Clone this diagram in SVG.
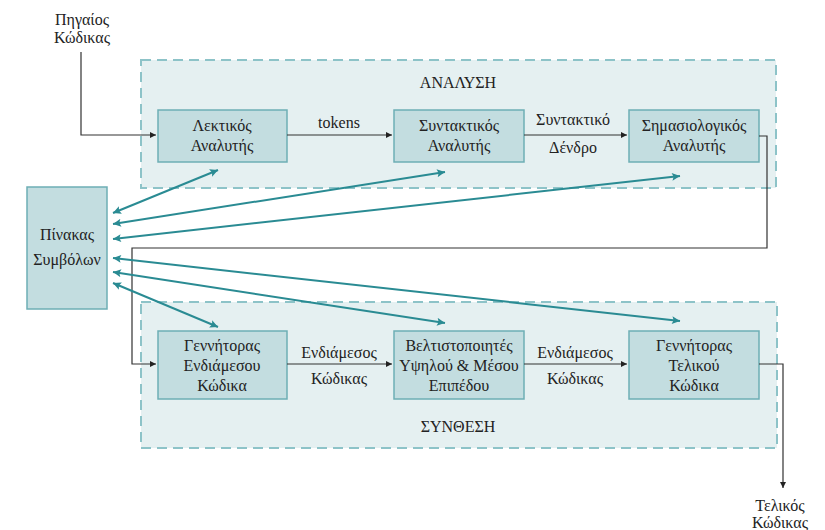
<svg xmlns="http://www.w3.org/2000/svg" width="825" height="530" viewBox="0 0 825 530">
<defs>
<marker id="ab" viewBox="0 0 10 10" refX="10" refY="5" markerWidth="8" markerHeight="6" markerUnits="userSpaceOnUse" orient="auto"><path d="M0,0 L10,5 L0,10 z" fill="#222"/></marker>
<marker id="at" viewBox="0 0 10 10" refX="10" refY="5" markerWidth="12" markerHeight="8" markerUnits="userSpaceOnUse" orient="auto-start-reverse"><path d="M0,0 L10,5 L0,10 L2,5 z" fill="#2a8b93"/></marker>
<style>
.grp{fill:#e5f0f1;stroke:#8dc3c8;stroke-width:2;stroke-dasharray:10,6}
.box{fill:#c3dde0;stroke:#6eaeb5;stroke-width:1.5}
.blk{fill:none;stroke:#333;stroke-width:1.2}
.tl{fill:none;stroke:#2a8b93;stroke-width:2}
</style>
</defs>
<rect width="825" height="530" fill="#fff"/>
<g font-family="Liberation Serif" font-size="16" fill="#222" text-anchor="middle">
<g id="analysis"><rect class="grp" x="141" y="60" width="635" height="128"/><text x="458" y="88">ΑΝΑΛΥΣΗ</text></g>
<g id="synthesis"><rect class="grp" x="141" y="302" width="636" height="146"/><text x="458" y="432">ΣΥΝΘΕΣΗ</text></g>
<g id="src"><text x="82" y="25">Πηγαίος</text><text x="82" y="43">Κώδικας</text></g>
<g id="dst"><text x="780" y="511">Τελικός</text><text x="780" y="528">Κώδικας</text></g>
<g id="lex"><rect class="box" x="158" y="110" width="129" height="52"/><text x="222" y="131">Λεκτικός</text><text x="222" y="151">Αναλυτής</text></g>
<g id="syn"><rect class="box" x="394" y="110" width="130" height="52"/><text x="459" y="131">Συντακτικός</text><text x="459" y="151">Αναλυτής</text></g>
<g id="sem"><rect class="box" x="629" y="110" width="130" height="52"/><text x="694" y="131">Σημασιολογικός</text><text x="694" y="151">Αναλυτής</text></g>
<g id="sym"><rect class="box" x="27" y="187" width="80" height="122"/><text x="67" y="240">Πίνακας</text><text x="67" y="265">Συμβόλων</text></g>
<g id="icg"><rect class="box" x="158" y="331" width="129" height="68"/><text x="222" y="351">Γεννήτορας</text><text x="222" y="371">Ενδιάμεσου</text><text x="222" y="391">Κώδικα</text></g>
<g id="opt"><rect class="box" x="394" y="331" width="130" height="68"/><text x="459" y="351">Βελτιστοποιητές</text><text x="459" y="371">Υψηλού &amp; Μέσου</text><text x="459" y="391">Επιπέδου</text></g>
<g id="fcg"><rect class="box" x="629" y="331" width="130" height="68"/><text x="694" y="351">Γεννήτορας</text><text x="694" y="371">Τελικού</text><text x="694" y="391">Κώδικα</text></g>
<g id="connectors">
<path class="blk" d="M81,52 V135 H156" marker-end="url(#ab)"/>
<path class="blk" d="M287,135 H392" marker-end="url(#ab)"/>
<text x="339" y="128">tokens</text>
<path class="blk" d="M524,135 H627" marker-end="url(#ab)"/>
<text x="573" y="125">Συντακτικό</text><text x="573" y="153">Δένδρο</text>
<path class="blk" d="M759,136 H767 V248 H132 V364 H156" marker-end="url(#ab)"/>
<path class="blk" d="M287,364 H392" marker-end="url(#ab)"/>
<text x="339" y="358">Ενδιάμεσος</text><text x="339" y="384">Κώδικας</text>
<path class="blk" d="M524,364 H627" marker-end="url(#ab)"/>
<text x="575" y="358">Ενδιάμεσος</text><text x="575" y="384">Κώδικας</text>
<path class="blk" d="M759,364 H783 V488" marker-end="url(#ab)"/>
<path class="tl" d="M113,213 L218,170" marker-start="url(#at)" marker-end="url(#at)"/>
<path class="tl" d="M113,224 L445,172" marker-start="url(#at)" marker-end="url(#at)"/>
<path class="tl" d="M113,239 L680,176" marker-start="url(#at)" marker-end="url(#at)"/>
<path class="tl" d="M113,258 L680,321" marker-start="url(#at)" marker-end="url(#at)"/>
<path class="tl" d="M113,272 L445,323" marker-start="url(#at)" marker-end="url(#at)"/>
<path class="tl" d="M113,283 L218,327" marker-start="url(#at)" marker-end="url(#at)"/>
</g>
</g>
</svg>
